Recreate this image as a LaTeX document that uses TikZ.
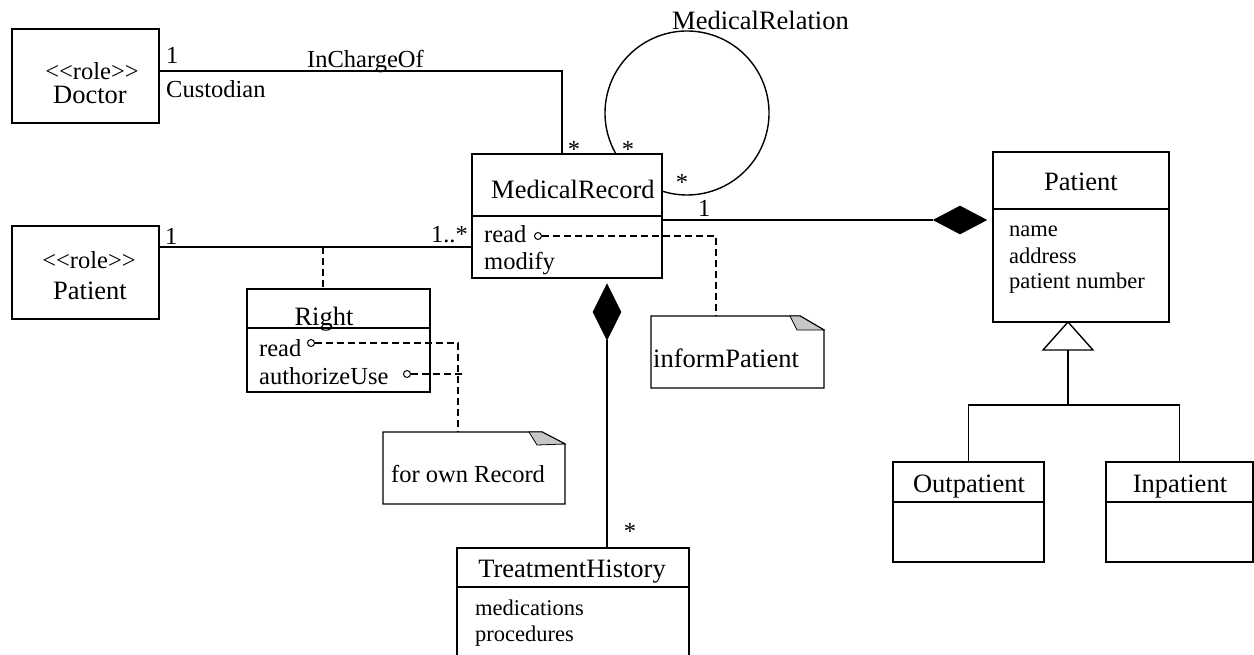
\documentclass[tikz,border=0pt]{standalone}
\usepackage{fontspec}
\setmainfont{Liberation Serif}
\usetikzlibrary{calc,shapes.geometric}
\begin{document}
\begin{tikzpicture}[x=1pt,y=-1pt,
  box/.style={draw, line width=1.4pt, inner sep=0pt, outer sep=0pt},
  big/.style={inner sep=0pt, font=\fontsize{26.5}{30}\selectfont},
  mid/.style={inner sep=0pt, font=\fontsize{24.5}{28}\selectfont},
  attr/.style={inner sep=0pt, font=\fontsize{22.5}{26}\selectfont},
  conn/.style={line width=1.4pt},
  dsh/.style={line width=1.4pt, dash pattern=on 7pt off 4pt},
  lolli/.style={circle, draw, line width=1pt, minimum size=7pt, inner sep=0pt},
  dia/.style={diamond, fill=black, draw=black, line width=0.8pt, inner sep=0pt, aspect=1},
  notebox/.style={inner sep=0pt, outer sep=0pt},
  notefold/.style={fill=black!22, draw=black, line width=0.8pt},
  noteline/.style={draw, line width=1.4pt, line join=miter}]
\useasboundingbox (0,0) rectangle (1254,654);

% ---------- Doctor role ----------
\node[box, minimum width=147pt, minimum height=94pt] (doctor) at (85.5,76) {};
\node[mid, anchor=base] (doctorst) at (92,79) {<\kern0pt<role>\kern0pt>};
\node[big, anchor=base] (doctorname) at (90,103) {Doctor};

% ---------- Patient role ----------
\node[box, minimum width=147pt, minimum height=93pt] (prole) at (85.5,272.5) {};
\node[mid, anchor=base] (prolest) at (89,268) {<\kern0pt<role>\kern0pt>};
\node[big, anchor=base] (prolename) at (90,299) {Patient};

% ---------- MedicalRecord ----------
\node[box, minimum width=190pt, minimum height=124pt] (mr) at (567,216) {};
\draw[line width=1.4pt] (mr.west) -- (mr.east);
\node[big, anchor=base west] (mrname) at (491,198) {MedicalRecord};
\node[mid, anchor=base west] (mrread) at (484,242) {read};
\node[mid, anchor=base west] (mrmod) at (484,269) {modify};
\node[lolli] (mrc) at (538,236) {};

% ---------- Right ----------
\node[box, minimum width=183pt, minimum height=103pt] (right) at (338.5,340.5) {};
\draw[line width=1.4pt] ($(right.north west)+(0,39)$) -- ($(right.north east)+(0,39)$);
\node[big, anchor=base] (rightname) at (324,325) {Right};
\node[mid, anchor=base west] (rightread) at (259,356) {read};
\node[mid, anchor=base west] (rightauth) at (259,384) {authorizeUse};
\node[lolli] (rc1) at (311,343) {};
\node[lolli] (rc2) at (407,374) {};

% ---------- notes ----------
\node[notebox, minimum width=173pt, minimum height=72pt] (note1) at (737.5,352) {};
\draw[noteline] (note1.north west) -- ([xshift=-24pt]note1.north east) -- ([yshift=-14pt]note1.north east) -- (note1.south east) -- (note1.south west) -- cycle;
\draw[notefold] ([xshift=-34pt]note1.north east) -- ([xshift=-24pt]note1.north east) -- ([yshift=-14pt]note1.north east) -- ([xshift=-27pt,yshift=-14pt]note1.north east) -- cycle;
\node[big, anchor=base west] (note1t) at (653,367) {informPatient};

\node[notebox, minimum width=182pt, minimum height=72pt] (note2) at (474,468) {};
\draw[noteline] (note2.north west) -- ([xshift=-23pt]note2.north east) -- ([yshift=-12pt]note2.north east) -- (note2.south east) -- (note2.south west) -- cycle;
\draw[notefold] ([xshift=-36pt]note2.north east) -- ([xshift=-23pt]note2.north east) -- ([yshift=-12pt]note2.north east) -- ([xshift=-28pt,yshift=-13pt]note2.north east) -- cycle;
\node[mid, anchor=base west] (note2t) at (391,482) {for own Record};

% ---------- TreatmentHistory ----------
\node[box, minimum width=232pt, minimum height=116pt] (th) at (573,606) {};
\draw[line width=1.4pt] ($(th.north west)+(0,39)$) -- ($(th.north east)+(0,39)$);
\node[big, anchor=base] (thname) at (572,577) {TreatmentHistory};
\node[attr, anchor=base west] (thmed) at (475,615) {medications};
\node[attr, anchor=base west] (thproc) at (475,641) {procedures};

% ---------- Patient class ----------
\node[box, minimum width=176pt, minimum height=170pt] (pat) at (1081,237) {};
\draw[line width=1.4pt] ($(pat.north west)+(0,57)$) -- ($(pat.north east)+(0,57)$);
\node[big, anchor=base] (patname) at (1081,190) {Patient};
\node[attr, anchor=base west] (patn) at (1009,236) {name};
\node[attr, anchor=base west] (pata) at (1009,263) {address};
\node[attr, anchor=base west] (patpn) at (1009,288) {patient number};

% ---------- Outpatient / Inpatient ----------
\node[box, minimum width=151pt, minimum height=100pt] (outp) at (968.5,512) {};
\draw[line width=1.4pt] ($(outp.north west)+(0,40)$) -- ($(outp.north east)+(0,40)$);
\node[big, anchor=base] (outpname) at (969,492) {Outpatient};
\node[box, minimum width=147pt, minimum height=100pt] (inp) at (1179.5,512) {};
\draw[line width=1.4pt] ($(inp.north west)+(0,40)$) -- ($(inp.north east)+(0,40)$);
\node[big, anchor=base] (inpname) at (1180,492) {Inpatient};

% ---------- InChargeOf association ----------
\coordinate (icbend) at (562,71);
\draw[conn] (doctor.east |- icbend) -- (icbend) -- (icbend |- mr.north);
\node[mid, anchor=base west] (ic1) at (166,63) {1};
\node[mid, anchor=base west] (iccust) at (166,97) {Custodian};
\node[mid, anchor=base west] (icname) at (307,67) {InChargeOf};
\node[mid, anchor=base] (icstar) at (574,157) {*};

% ---------- MedicalRelation (self association) ----------
\coordinate (mrel1) at (616,154);
\draw[conn] (mrel1) arc[start angle=150, end angle=468, radius=82];
\node[big, anchor=base west] (mrelname) at (672,29) {MedicalRelation};
\node[mid, anchor=base] (mrelstar1) at (628,157) {*};
\node[mid, anchor=base] (mrelstar2) at (682,190) {*};

% ---------- Patient role -- MedicalRecord with association class Right ----------
\coordinate (rl) at (323,247);
\draw[conn] (prole.east |- rl) -- (mr.west |- rl);
\draw[dsh] (rl) -- (rl |- right.north);
\node[mid, anchor=base west] (pr1) at (165,244) {1};
\node[mid, anchor=base east] (pr2) at (468,242) {1..*};

% ---------- dashed note links ----------
\coordinate (k0) at (716,236);
\draw[dsh] (mrc) -- (k0) -- (k0 |- note1.north);
\coordinate (k1) at (458,343);
\draw[dsh] (rc1) -- (k1) -- (k1 |- note2.north);
\coordinate (k2) at (462,374);
\draw[dsh] (rc2) -- (k2);

% ---------- composition MedicalRecord -> TreatmentHistory ----------
\node[dia, minimum width=28pt, minimum height=56pt] (d1) at (607,312) {};
\draw[conn] (d1.south) -- (d1.south |- th.north);
\node[mid, anchor=base] (thstar) at (630,539) {*};

% ---------- composition MedicalRecord -> Patient ----------
\node[dia, minimum width=53pt, minimum height=28pt] (d2) at (960,220) {};
\draw[conn] (mr.east |- d2) -- (d2.west);
\node[mid, anchor=base west] (pt1) at (698,216) {1};

% ---------- generalization ----------
\coordinate (gap) at (1068,322);
\coordinate (gb) at (1068,350);
\coordinate (gh) at (1068,405);
\draw[line width=1.4pt, fill=white] (gap) -- (1093,350) -- (1043,350) -- cycle;
\draw[conn] (gb) -- (gh);
\draw[conn] (outp.north) |- (gh) -| (inp.north);
\end{tikzpicture}
\end{document}
